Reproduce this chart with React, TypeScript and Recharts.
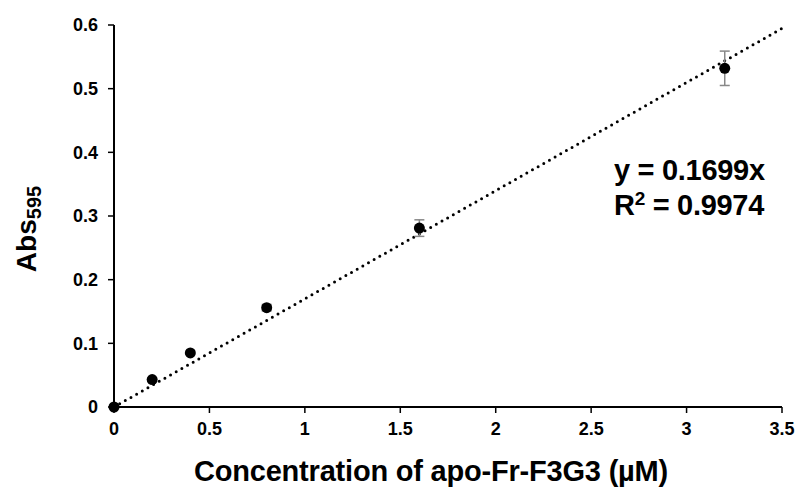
import React from 'react';
import {
  ScatterChart, Scatter, XAxis, YAxis, ErrorBar, ReferenceLine, Label,
} from 'recharts';

// concentration (µM) vs Abs595
const conc = [0, 0.2, 0.4, 0.8, 1.6, 3.2];
const abs = [0, 0.043, 0.085, 0.156, 0.281, 0.532];
const sd = [null, null, null, 0.005, 0.013, 0.027];
const xTicks = [0, 0.5, 1, 1.5, 2, 2.5, 3, 3.5];
const yTicks = [0, 0.1, 0.2, 0.3, 0.4, 0.5, 0.6];
const slope = 0.1699;
const trendX = [0, 3.5];

const points = conc.map((x, i) => ({ x, y: abs[i], err: sd[i] }));
const FONT = '"Liberation Sans", Arial, Helvetica, sans-serif';

const tickStyle = { fill: '#000', fontSize: 18, fontWeight: 700, fontFamily: FONT };

export default function App() {
  return (
    <div style={{ position: 'absolute', left: 0, top: 0, background: '#fff' }}>
      <ScatterChart width={798} height={493} margin={{ top: 25, right: 16, bottom: 0, left: 0 }}>
        <XAxis
          type="number" dataKey="x" domain={[0, 3.5]} ticks={xTicks}
          tickFormatter={v => String(v)}
          tick={tickStyle} tickMargin={9}
          axisLine={{ stroke: '#000', strokeWidth: 2 }}
          tickLine={{ stroke: '#000', strokeWidth: 1.5 }}
          height={86}
        >
          <Label
            content={() => (
              <text x={431} y={481} textAnchor="middle"
                style={{ fill: '#000', fontSize: 29, fontWeight: 700, fontFamily: FONT, letterSpacing: -0.2 }}>
                Concentration of apo-Fr-F3G3 (µM)
              </text>
            )}
          />
        </XAxis>
        <YAxis
          type="number" dataKey="y" domain={[0, 0.6]} ticks={yTicks}
          tickFormatter={v => String(v)}
          tick={tickStyle} tickMargin={10}
          axisLine={{ stroke: '#000', strokeWidth: 2 }}
          tickLine={{ stroke: '#000', strokeWidth: 1.5 }}
          width={114}
        >
          <Label
            content={() => (
              <text
                x={0} y={0} transform="translate(36,229) rotate(-90)" textAnchor="middle"
                style={{ fill: '#000', fontSize: 28, fontWeight: 700, fontFamily: FONT }}
              >
                Abs<tspan fontSize={20} dy={5}>595</tspan>
              </text>
            )}
          />
        </YAxis>
        <ReferenceLine
          segment={trendX.map(x => ({ x, y: slope * x }))}
          stroke="#000" strokeWidth={3} strokeDasharray="0 6.5" strokeLinecap="round"
          ifOverflow="visible"
        />
        <Scatter data={points} fill="#000" isAnimationActive={false}
          shape={(p: any) => <circle cx={p.cx} cy={p.cy} r={5.5} fill="#000" />}>
          <ErrorBar dataKey="err" direction="y" stroke="#888" strokeWidth={1.5} width={5} />
        </Scatter>
        <text x={614} y={180} style={{ fill: '#000', fontSize: 29, fontWeight: 700, fontFamily: FONT, letterSpacing: -0.3 }}>
          y = 0.1699x
        </text>
        <text x={614} y={215} style={{ fill: '#000', fontSize: 29, fontWeight: 700, fontFamily: FONT, letterSpacing: -0.3 }}>
          R<tspan fontSize={19} dy={-10}>2</tspan><tspan dy={10}> = 0.9974</tspan>
        </text>
      </ScatterChart>
    </div>
  );
}
